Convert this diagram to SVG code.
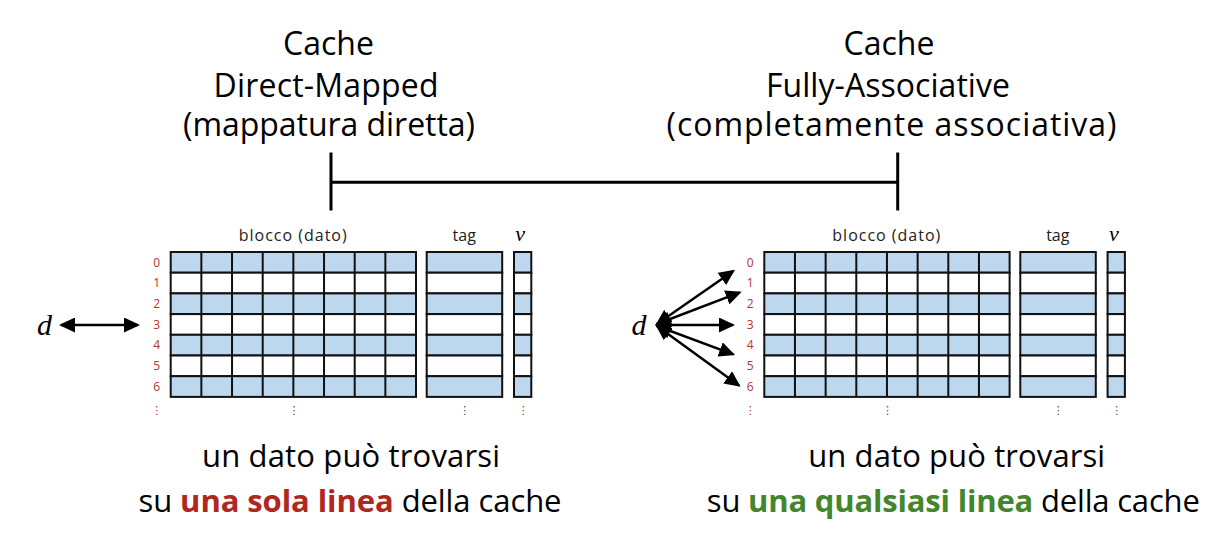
<svg xmlns="http://www.w3.org/2000/svg" width="1231" height="546" viewBox="0 0 1231 546">
  <style>
    .title { font-family: "Open Sans", "Liberation Sans", sans-serif; font-size: 32px; fill: #000; text-anchor: middle; }
    .bottom { font-family: "Open Sans", "Liberation Sans", sans-serif; font-size: 31px; fill: #000; text-anchor: middle; }
    .hdr { font-family: "Open Sans", "Liberation Sans", sans-serif; font-size: 16px; fill: #222; text-anchor: middle; }
    .math { font-family: "Liberation Serif", "DejaVu Serif", serif; font-style: italic; fill: #000; text-anchor: middle; }
    .idx { font-family: "Open Sans", "Liberation Sans", sans-serif; font-size: 12px; fill: #B5322E; text-anchor: middle; }
    .dots { font-family: "DejaVu Sans", sans-serif; font-size: 11px; fill: #444; text-anchor: middle; }
    .blue { fill: #BDD7EE; stroke: #111; stroke-width: 2; }
    .white { fill: #FFFFFF; stroke: #111; stroke-width: 2; }
    .grid { fill: none; stroke: #111; stroke-width: 2; }
    .bracket { fill: none; stroke: #000; stroke-width: 3; }
    .arrow { fill: none; stroke: #000; stroke-width: 2.5; marker-start: url(#ah); marker-end: url(#ah); }
    .red { fill: #B0271E; font-weight: bold; }
    .green { fill: #43862B; font-weight: bold; }
  </style>
  <defs>
    <marker id="ah" viewBox="0 0 16 15" refX="14" refY="7.5" markerWidth="16" markerHeight="15" markerUnits="userSpaceOnUse" orient="auto-start-reverse">
      <path d="M0,0 L16,7.5 L0,15 z" fill="#000"/>
    </marker>
    <g id="table">
      <rect class="blue" x="0" y="252" width="245.3" height="20.7"/>
      <rect class="white" x="0" y="272.7" width="245.3" height="20.7"/>
      <rect class="blue" x="0" y="293.4" width="245.3" height="20.7"/>
      <rect class="white" x="0" y="314.1" width="245.3" height="20.7"/>
      <rect class="blue" x="0" y="334.8" width="245.3" height="20.7"/>
      <rect class="white" x="0" y="355.5" width="245.3" height="20.7"/>
      <rect class="blue" x="0" y="376.2" width="245.3" height="20.7"/>
      <path class="grid" d="M30.66,252V396.9 M61.33,252V396.9 M92,252V396.9 M122.66,252V396.9 M153.33,252V396.9 M184,252V396.9 M214.66,252V396.9"/>
      <rect class="blue" x="256" y="252" width="75.5" height="20.7"/>
      <rect class="white" x="256" y="272.7" width="75.5" height="20.7"/>
      <rect class="blue" x="256" y="293.4" width="75.5" height="20.7"/>
      <rect class="white" x="256" y="314.1" width="75.5" height="20.7"/>
      <rect class="blue" x="256" y="334.8" width="75.5" height="20.7"/>
      <rect class="white" x="256" y="355.5" width="75.5" height="20.7"/>
      <rect class="blue" x="256" y="376.2" width="75.5" height="20.7"/>
      <rect class="blue" x="343.3" y="252" width="17.3" height="20.7"/>
      <rect class="white" x="343.3" y="272.7" width="17.3" height="20.7"/>
      <rect class="blue" x="343.3" y="293.4" width="17.3" height="20.7"/>
      <rect class="white" x="343.3" y="314.1" width="17.3" height="20.7"/>
      <rect class="blue" x="343.3" y="334.8" width="17.3" height="20.7"/>
      <rect class="white" x="343.3" y="355.5" width="17.3" height="20.7"/>
      <rect class="blue" x="343.3" y="376.2" width="17.3" height="20.7"/>
      <text class="hdr" x="122" y="241" textLength="108">blocco (dato)</text>
      <text class="hdr" x="293.5" y="241">tag</text>
      <text class="math" x="349.5" y="241" font-size="22">v</text>
      <text class="idx" x="-14" y="266.6">0</text>
      <text class="idx" x="-14" y="287.3">1</text>
      <text class="idx" x="-14" y="308">2</text>
      <text class="idx" x="-14" y="328.7">3</text>
      <text class="idx" x="-14" y="349.4">4</text>
      <text class="idx" x="-14" y="370.1">5</text>
      <text class="idx" x="-14" y="390.8">6</text>
      <text class="dots" x="-14" y="414" style="fill:#B5322E">⋮</text>
      <text class="dots" x="123.3" y="414">⋮</text>
      <text class="dots" x="294" y="414">⋮</text>
      <text class="dots" x="352.5" y="414">⋮</text>
    </g>
  </defs>

  <g id="title-direct">
    <text class="title" x="328.5" y="55">Cache</text>
    <text class="title" x="326" y="97" textLength="225">Direct-Mapped</text>
    <text class="title" x="329" y="136" textLength="292">(mappatura diretta)</text>
  </g>
  <g id="title-fully">
    <text class="title" x="889" y="55">Cache</text>
    <text class="title" x="888" y="97" textLength="244">Fully-Associative</text>
    <text class="title" x="891.5" y="136" textLength="450">(completamente associativa)</text>
  </g>

  <g id="bracket">
    <path class="bracket" d="M331,152.5V210.5 M897.7,152.5V210.5 M331,182.3H897.7"/>
  </g>

  <g id="cache-direct" transform="translate(170.7,0)">
    <use href="#table"/>
  </g>
  <g id="cache-fully" transform="translate(764.3,0)">
    <use href="#table"/>
  </g>

  <g id="d-left">
    <text class="math" x="44.5" y="335" font-size="30">d</text>
  </g>
  <g id="d-right">
    <text class="math" x="639" y="335" font-size="30">d</text>
  </g>

  <g id="connectors">
    <line class="arrow" x1="61" y1="325" x2="138" y2="325"/>
    <line class="arrow" x1="657" y1="324" x2="733.3" y2="271"/>
    <line class="arrow" x1="657" y1="324" x2="739.8" y2="292.4"/>
    <line class="arrow" x1="657" y1="325" x2="733" y2="325"/>
    <line class="arrow" x1="657" y1="326" x2="733.2" y2="354.3"/>
    <line class="arrow" x1="657" y1="326" x2="739" y2="385.6"/>
  </g>

  <g id="caption-direct">
    <text class="bottom" x="351" y="467" textLength="298">un dato può trovarsi</text>
    <text class="bottom" x="350" y="512" textLength="423">su <tspan class="red">una sola linea</tspan> della cache</text>
  </g>
  <g id="caption-fully">
    <text class="bottom" x="956.7" y="467" textLength="297">un dato può trovarsi</text>
    <text class="bottom" x="953.3" y="512" textLength="493">su <tspan class="green">una qualsiasi linea</tspan> della cache</text>
  </g>
</svg>
